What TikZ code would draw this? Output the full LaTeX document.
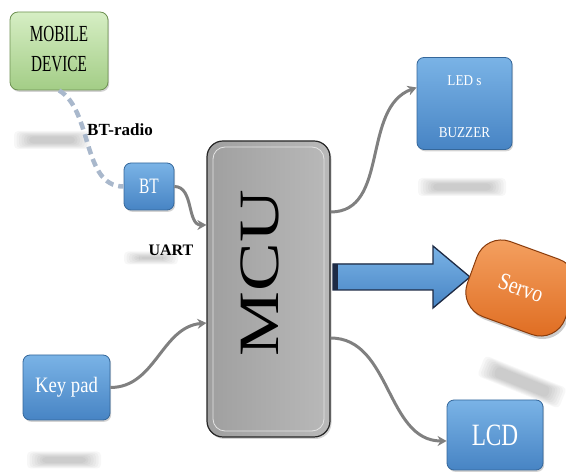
\documentclass[tikz,border=0pt]{standalone}
\usepackage{fontspec}
\usepackage{graphicx}
\setmainfont{Liberation Serif}
\usetikzlibrary{shadows,arrows.meta}
\definecolor{bluetop}{HTML}{7AB3E6}
\definecolor{bluebot}{HTML}{4784C4}
\definecolor{blueedge}{HTML}{35679A}
\definecolor{greentop}{HTML}{D6EEC4}
\definecolor{greenbot}{HTML}{A3CD86}
\definecolor{greenedge}{HTML}{6E9152}
\definecolor{orangetop}{HTML}{F5A364}
\definecolor{orangebot}{HTML}{DE6A1E}
\definecolor{orangeedge}{HTML}{8A3C0C}
\definecolor{connc}{HTML}{808080}
\definecolor{radioc}{HTML}{A9B8CC}
\definecolor{navy}{HTML}{1E2B45}
\newcommand\softshade[5]{%
  \foreach \k in {0,...,6}{%
    \fill[black,opacity=0.03,rotate around={#5:(#1,#2)},rounded corners=4pt]
      (#1-#3/2+\k*2.5,#2-#4/2+\k*0.9) rectangle (#1+#3/2-\k*2.5,#2+#4/2-\k*0.9);
  }}
\tikzset{
  x=1pt,y=1pt,
  bluebox/.style={rounded corners=7pt,top color=bluetop,bottom color=bluebot,
    draw=blueedge,line width=0.8pt,text=white,inner sep=0pt,
    drop shadow={shadow xshift=1.2pt,shadow yshift=-1.8pt,opacity=0.35}},
  greenbox/.style={rounded corners=8pt,top color=greentop,bottom color=greenbot,
    draw=greenedge,line width=0.8pt,text=black,inner sep=0pt,
    drop shadow={shadow xshift=1.2pt,shadow yshift=-1.8pt,opacity=0.35}},
  conn/.style={draw=connc,line width=3pt,-{Stealth[length=9pt,width=10pt]}},
  radio/.style={draw=radioc,line width=4.5pt,dash pattern=on 8pt off 5pt},
  lbl/.style={inner sep=0pt,font=\bfseries\fontsize{16}{18}\selectfont}
}
\begin{document}
\begin{tikzpicture}
\useasboundingbox (0,0) rectangle (566,474);
% soft reflections
\softshade{52}{334}{76}{18}{0}
\softshade{151}{216}{54}{13}{0}
\softshade{64}{14}{74}{17}{0}
\softshade{462}{287}{88}{18}{0}
\softshade{522}{92}{88}{22}{-22}
% boxes
\node[greenbox,minimum width=98pt,minimum height=78pt] (mob) at (59,423)
  {\fontsize{23}{30}\selectfont\scalebox{0.66}[1]{\begin{tabular}{@{}c@{}}MOBILE\\DEVICE\end{tabular}}};
\node[bluebox,minimum width=50pt,minimum height=47pt] (bt) at (149,287.5)
  {\fontsize{22}{24}\selectfont\scalebox{0.7}[1]{BT}};
\node[bluebox,minimum width=87pt,minimum height=65pt] (key) at (66.5,86.5)
  {\fontsize{22}{24}\selectfont\scalebox{0.85}[1]{Key pad}};
\node[bluebox,minimum width=95pt,minimum height=75pt] (led) at (464.5,370.5)
  {\fontsize{15}{40}\selectfont\scalebox{0.88}[1]{\begin{tabular}{@{}c@{}}LED s\\[12pt]BUZZER\end{tabular}}};
\node[bluebox,minimum width=96pt,minimum height=70pt] (lcd) at (495,39)
  {\fontsize{31}{34}\selectfont\scalebox{0.75}[1]{LCD}};
% MCU
\node[rounded corners=16pt,left color=gray!75,right color=gray!55,
  draw=black!85,line width=1.2pt,minimum width=123pt,minimum height=296pt,inner sep=0pt,
  drop shadow={shadow xshift=1.5pt,shadow yshift=-2pt,opacity=0.35}] (mcu) at (268.5,185) {};
\draw[white!78!gray,line width=0.8pt,rounded corners=12pt] (213,43) rectangle (324,327);
\node[rotate=90,inner sep=0pt] (mcut) at (259.5,201)
  {\fontsize{57}{60}\selectfont\scalebox{1.28}[1]{MCU}};
% big arrow
\fill[top color=bluetop,bottom color=bluebot,draw=navy,line width=1.3pt]
  (333,184) -- (433,184) -- (433,166) -- (470,197) -- (433,228) -- (433,210) -- (333,210) -- cycle;
\fill[navy] (333,184) rectangle (338,210);
% servo
\node[rotate=-20,rounded corners=26pt,top color=orangetop,bottom color=orangebot,
  draw=orangeedge,line width=1pt,minimum width=104pt,minimum height=80pt,text=white,inner sep=0pt,
  drop shadow={shadow xshift=2pt,shadow yshift=-3pt,opacity=0.4}] (servo) at (521,186)
  {\fontsize{24}{26}\selectfont\scalebox{0.82}[1]{Servo}};
% labels
\node[lbl,font=\bfseries\fontsize{17}{19}\selectfont] (radiolbl) at (120,344) {BT-radio};
\node[lbl] (uartlbl) at (171,224) {UART};
% connectors
\draw[radio] (mob.south) .. controls +(34,-20) and +(-42,0) .. (bt.west);
\draw[conn] (bt.east) to[out=0,in=180] ([yshift=64pt]mcu.west);
\draw[conn] (key.east) to[out=0,in=185] ([yshift=-34pt]mcu.west);
\draw[conn] ([yshift=77pt]mcu.east) to[out=0,in=200] ([yshift=16pt]led.west);
\draw[conn] ([yshift=-49pt]mcu.east) to[out=0,in=180] ([yshift=-6pt]lcd.west);
\end{tikzpicture}
\end{document}
